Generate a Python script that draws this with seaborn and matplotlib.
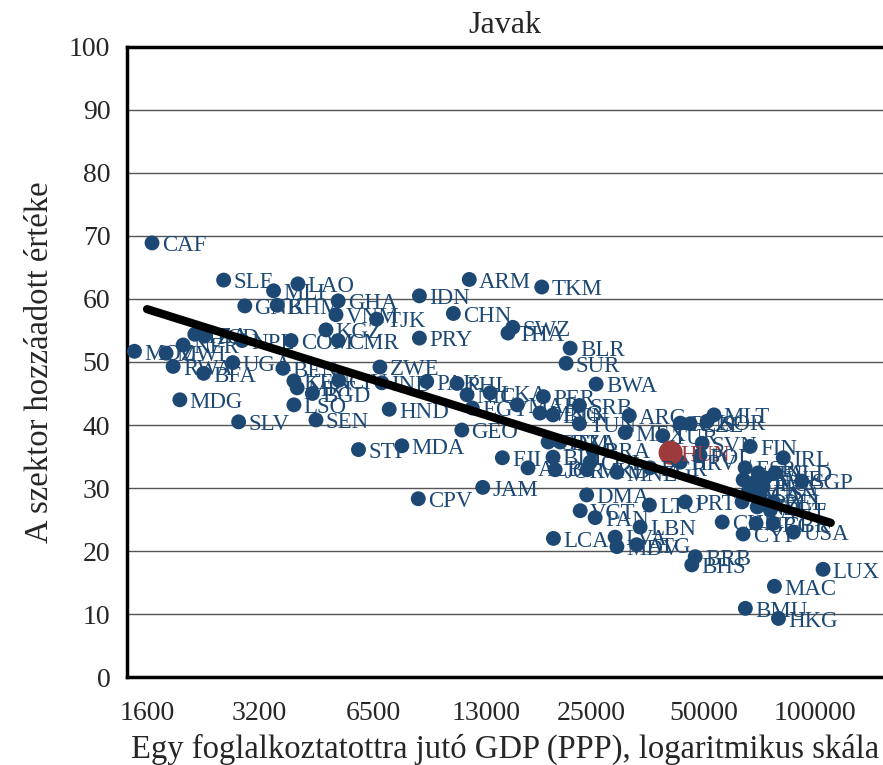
import numpy as np
import pandas as pd
import matplotlib
matplotlib.use("Agg")
import matplotlib.pyplot as plt
import seaborn as sns

# country codes, GDP per employed person (PPP) and sector value added share (%)
codes = ["CAF", "MOZ", "MWI", "NER", "RWA", "BFA", "TZA", "TCD", "MDG", "SLV",
         "SLE", "GNB", "MLI", "LAO", "KHM", "GHA", "VNM", "TJK", "KGZ", "CMR",
         "COM", "NPL", "UGA", "BEN", "KEN", "MRT", "CIV", "BGD", "LSO", "SEN",
         "ZWE", "IND", "PAK", "PHL", "HND", "GEO", "STP", "MDA", "CPV", "JAM",
         "FJI", "IDN", "CHN", "ARM", "PRY", "SWZ", "THA", "TKM", "BLR", "SUR",
         "BWA", "PER", "SRB", "ARG", "TUN", "MEX", "TUR", "HUN", "LKA", "EGY",
         "MAR", "MNG", "BTN", "NIC", "GTM", "DZA", "BIH", "JOR", "ALB", "MKD",
         "BRA", "COL", "MNE", "BGR", "HRV", "POL", "RUS", "CZE", "KOR", "MLT",
         "SVN", "DMA", "VCT", "PAN", "LTU", "LBN", "LCA", "LVA", "MDV", "ATG",
         "BRB", "BHS", "LUX", "MAC", "BMU", "HKG", "FIN", "IRL", "SGP", "ESP",
         "ITA", "NLD", "JPN", "DEU", "FRA", "ISR", "NZL", "BEL", "CYP", "GRC",
         "GBR", "USA", "CHL", "PRT", "SWE", "AUS", "CAN", "AUT"]
gdp = [1650, 1480, 1800, 2000, 1880, 2270, 2150, 2280, 1960, 2820,
       2570, 2930, 3500, 4070, 3580, 5220, 5150, 6620, 4840, 5220,
       3900, 2880, 2720, 3710, 3970, 4050, 5240, 4450, 3970, 4550,
       6760, 6840, 9030, 10890, 7160, 11220, 5920, 7740, 8570, 12770,
       14420, 8630, 10650, 11750, 8630, 15380, 14930, 18400, 21930, 21390,
       25760, 18580, 23230, 31620, 23230, 30830, 38900, 40840, 13370, 11970,
       15810, 18200, 19730, 11590, 19140, 20610, 19730, 19990, 16900, 24380,
       25290, 24830, 29310, 35970, 43350, 49000, 43350, 46100, 51200, 53400,
       49650, 24300, 23340, 25600, 35810, 33820, 19780, 28970, 29300, 33100,
       47550, 46560, 104900, 77640, 64860, 79620, 66830, 82000, 92000, 64770,
       70200, 78000, 63970, 68080, 72400, 63550, 69800, 77100, 63970, 69300,
       77100, 87300, 56200, 44700, 73300, 66000, 71100, 75700]
share = [68.9, 51.7, 51.4, 52.7, 49.3, 48.2, 54.4, 54.1, 44.0, 40.5,
         63.0, 58.9, 61.3, 62.4, 59.0, 59.7, 57.5, 56.8, 55.1, 53.4,
         53.4, 53.4, 49.9, 49.0, 47.0, 45.9, 47.1, 45.0, 43.2, 40.8,
         49.2, 46.7, 46.9, 46.6, 42.5, 39.2, 36.1, 36.7, 28.3, 30.1,
         34.8, 60.5, 57.7, 63.1, 53.8, 55.5, 54.6, 61.9, 52.2, 49.8,
         46.5, 44.5, 43.1, 41.5, 40.2, 38.8, 38.3, 35.6, 45.1, 42.7,
         43.2, 41.9, 41.6, 44.8, 37.3, 37.3, 34.9, 32.9, 33.2, 32.9,
         36.0, 34.1, 32.5, 33.2, 34.1, 35.2, 40.3, 40.2, 40.6, 41.6,
         37.1, 28.9, 26.4, 25.3, 27.3, 23.8, 22.0, 22.2, 20.7, 21.0,
         19.1, 17.8, 17.1, 14.4, 10.9, 9.3, 36.6, 34.8, 31.1, 33.2,
         32.4, 32.4, 31.3, 30.8, 30.2, 27.8, 27.0, 27.8, 22.7, 24.4,
         24.4, 23.0, 24.6, 27.8, 31.6, 29.4, 28.9, 26.5]

highlight = "HUN"
x_ticks = [1600, 3200, 6500, 13000, 25000, 50000, 100000]
y_ticks = list(range(0, 101, 10))

df = pd.DataFrame({"code": codes, "gdp": gdp, "share": share})
df["hl"] = df["code"] == highlight

blue = "#1c4873"
red = "#9e3a3c"

sns.set_style("white")
plt.rcParams["font.family"] = ["Liberation Serif", "DejaVu Serif"]

fig = plt.figure(figsize=(8.83, 7.65), dpi=100)
ax = fig.add_axes([0.1438, 0.115, 0.8562, 0.8236])
ax.set_xscale("log")

for y in y_ticks[1:-1]:
    ax.axhline(y, color="#555555", lw=1, zorder=0)

sns.scatterplot(data=df[~df["hl"]], x="gdp", y="share", color=blue, s=115,
                edgecolor="none", ax=ax, zorder=3)
sns.scatterplot(data=df[df["hl"]], x="gdp", y="share", color=red, s=300,
                edgecolor="none", ax=ax, zorder=4)

for _, r in df.iterrows():
    ax.annotate(r["code"], (r["gdp"], r["share"]), xytext=(7, -2),
                textcoords="offset points", va="center", ha="left",
                fontsize=16.5, color=red if r["hl"] else blue, zorder=5)

# fitted line on log scale
k, b = np.polyfit(np.log10(df["gdp"]), df["share"], 1)
xl = np.array([1600, 110000])
ax.plot(xl, k * np.log10(xl) + b, color="black", lw=6, zorder=6,
        solid_capstyle="round")

ax.set_xlim(1413, 152000)
ax.set_ylim(0, 100)
ax.set_xticks(x_ticks)
ax.set_xticklabels([str(t) for t in x_ticks])
ax.xaxis.set_minor_locator(matplotlib.ticker.NullLocator())
ax.set_yticks(y_ticks)
ax.tick_params(axis="both", labelsize=20, length=7, width=1.2, direction="out",
               color="black", pad=5)
ax.tick_params(axis="x", pad=10)

for side in ["left", "bottom", "top"]:
    ax.spines[side].set_visible(True)
    ax.spines[side].set_linewidth(2.5)
    ax.spines[side].set_color("black")
ax.spines["right"].set_visible(False)

ax.set_title("Javak", fontsize=23, pad=10)
ax.set_xlabel("Egy foglalkoztatottra jutó GDP (PPP), logaritmikus skála",
              fontsize=23.5, labelpad=6)
ax.set_ylabel("A szektor hozzáadott értéke", fontsize=23.5, labelpad=10)

fig.savefig("out.png", dpi=100)
